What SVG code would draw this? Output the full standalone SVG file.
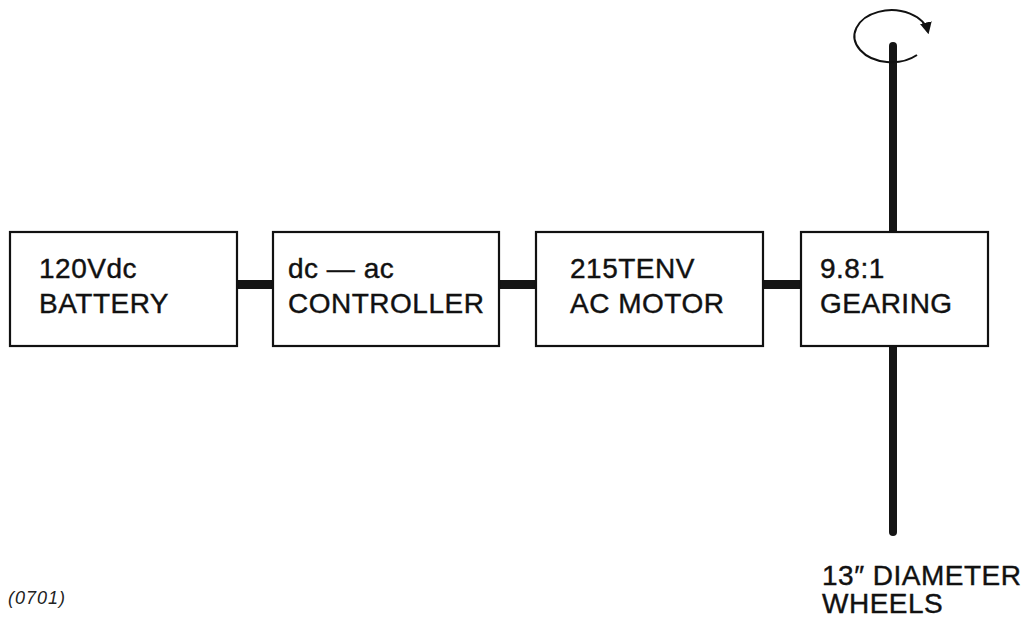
<svg xmlns="http://www.w3.org/2000/svg" width="1036" height="623" viewBox="0 0 1036 623">
<style>
.box{fill:#fff;stroke:#111;stroke-width:2.2}
.t{font-family:"Liberation Sans",Arial,sans-serif;font-size:28px;fill:#111;stroke:#111;stroke-width:0.4;letter-spacing:0.5px}
.bar{fill:#151515}
.shaft{stroke:#151515;stroke-width:8;stroke-linecap:round;fill:none}
</style>
<defs>
<marker id="ah" viewBox="0 0 10 10" refX="8" refY="5" markerWidth="6" markerHeight="6" orient="auto" markerUnits="strokeWidth">
<path d="M0,0 L10,5 L0,10 Z" fill="#111"/>
</marker>
</defs>
<rect width="1036" height="623" fill="#fff"/>
<g id="connectors">
<rect class="bar" x="237" y="280" width="36" height="9"/>
<rect class="bar" x="499" y="280" width="37" height="9"/>
<rect class="bar" x="763" y="280" width="38" height="9"/>
<line class="shaft" x1="893" y1="46" x2="893" y2="232"/>
<line class="shaft" x1="893" y1="346" x2="893" y2="532"/>
<path d="M917,55 A37,26 0 1 1 928,32" fill="none" stroke="#111" stroke-width="2" marker-end="url(#ah)"/>
</g>
<g id="battery">
<rect class="box" x="10" y="232" width="227" height="114"/>
<text class="t" x="39" y="278">120Vdc</text>
<text class="t" x="39" y="313">BATTERY</text>
</g>
<g id="controller">
<rect class="box" x="273" y="232" width="226" height="114"/>
<text class="t" x="288" y="278">dc — ac</text>
<text class="t" x="288" y="313">CONTROLLER</text>
</g>
<g id="motor">
<rect class="box" x="536" y="232" width="227" height="114"/>
<text class="t" x="570" y="278">215TENV</text>
<text class="t" x="570" y="313">AC MOTOR</text>
</g>
<g id="gearing">
<rect class="box" x="801" y="232" width="187" height="114"/>
<text class="t" x="820" y="278">9.8:1</text>
<text class="t" x="820" y="313">GEARING</text>
</g>
<g id="wheels">
<text class="t" x="822" y="585">13″ DIAMETER</text>
<text class="t" x="822" y="613">WHEELS</text>
</g>
<text x="8" y="604" font-family="Liberation Sans,Arial,sans-serif" font-size="18" font-style="italic" letter-spacing="1" fill="#222">(0701)</text>
</svg>
